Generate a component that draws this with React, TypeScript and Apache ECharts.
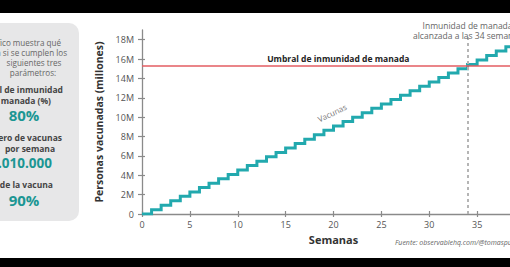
import React, { useEffect, useRef } from 'react';
import * as echarts from 'echarts';

// ---- data ----
const weeks = [0, 1, 2, 3, 4, 5, 6, 7, 8, 9, 10, 11, 12, 13, 14, 15, 16, 17, 18, 19, 20, 21, 22, 23, 24, 25, 26, 27, 28, 29, 30, 31, 32, 33, 34, 35, 36, 37, 38, 39, 40];
const vaccinatedM = [0, 0.45, 0.91, 1.36, 1.82, 2.27, 2.73, 3.18, 3.64, 4.09, 4.55, 5.0, 5.45, 5.91, 6.36, 6.82, 7.27, 7.73, 8.18, 8.64, 9.09, 9.55, 10.0, 10.45, 10.91, 11.36, 11.82, 12.27, 12.73, 13.18, 13.64, 14.09, 14.55, 15.0, 15.45, 15.91, 16.36, 16.82, 17.27, 17.73, 18.18];
const yTickValues = [0, 2, 4, 6, 8, 10, 12, 14, 16, 18];
const xTickValues = [0, 5, 10, 15, 20, 25, 30, 35];
const thresholdM = 15.3;
const immunityWeek = 34;
const thresholdLabel = 'Umbral de inmunidad de manada';
const immunityLabel = 'Inmunidad de manada\nalcanzada a las 34 semanas';
const seriesLabel = 'Vacunas';
const yAxisName = 'Personas vacunadas (millones)';
const xAxisName = 'Semanas';
const sourceText = 'Fuente: observablehq.com/@tomaspueyo';

const TEAL = '#22a9ae';
const TEAL_TEXT = '#1b9693';
const RED = '#e35d62';
const AXIS = '#8a8a8a';
const FONT = '"Open Sans", "Noto Sans", sans-serif';

export default function App() {
  const ref = useRef<HTMLDivElement>(null);
  useEffect(() => {
    if (!ref.current) return;
    const chart = echarts.init(ref.current, undefined, { renderer: 'svg' });

    const txt = (text: string, x: number, y: number, size: number, weight: string, fill: string, align: string) => ({
      type: 'text',
      x,
      y,
      z: 20,
      silent: true,
      style: { text, fill, fontSize: size, fontWeight: weight, fontFamily: FONT, align, verticalAlign: 'middle' },
    });

    const option: any = {
      animation: false,
      backgroundColor: '#ffffff',
      textStyle: { fontFamily: FONT },
      grid: { left: 142, top: 30, right: 15, bottom: 53, containLabel: false },
      xAxis: [
        {
          type: 'value', min: 0, max: 40, interval: 5,
          name: xAxisName, nameLocation: 'middle', nameGap: 17,
          nameTextStyle: { fontSize: 11, fontWeight: 'bold', color: '#333', fontFamily: FONT },
          axisLine: { show: true, lineStyle: { color: AXIS, width: 1.3 } },
          axisTick: { show: true, length: 3, lineStyle: { color: AXIS, width: 1.2 }, customValues: xTickValues },
          axisLabel: { color: '#555', fontSize: 9, margin: 6, fontFamily: FONT, customValues: xTickValues },
          splitLine: { show: false },
        },
        {
          type: 'value', min: 0, max: 40, position: 'bottom',
          axisLine: { show: false },
          axisTick: { show: true, inside: true, length: 3, lineStyle: { color: AXIS, width: 1.2 }, customValues: xTickValues },
          axisLabel: { show: false },
          splitLine: { show: false },
        },
      ],
      yAxis: [
        {
          type: 'value', min: 0, max: 19,
          name: yAxisName, nameLocation: 'middle', nameGap: 20,
          nameTextStyle: { fontSize: 10.5, fontWeight: 'bold', color: '#333', fontFamily: FONT },
          axisLine: { show: true, lineStyle: { color: AXIS, width: 1.3 } },
          axisTick: { show: true, length: 4, lineStyle: { color: AXIS, width: 1.2 }, customValues: yTickValues },
          axisLabel: {
            color: '#555', fontSize: 9, margin: 8, fontFamily: FONT, customValues: yTickValues,
            formatter: (v: number) => (v === 0 ? '0' : v + 'M'),
          },
          splitLine: { show: false },
        },
        {
          type: 'value', min: 0, max: 19, position: 'left',
          axisLine: { show: false },
          axisTick: { show: true, inside: true, length: 3, lineStyle: { color: AXIS, width: 1.2 }, customValues: yTickValues },
          axisLabel: { show: false },
          splitLine: { show: false },
        },
      ],
      series: [
        {
          type: 'line',
          step: 'end',
          xAxisIndex: 0,
          yAxisIndex: 0,
          symbol: 'none',
          showSymbol: false,
          data: weeks.map((w, i) => [w, vaccinatedM[i]]),
          lineStyle: { color: TEAL, width: 3, join: 'miter', cap: 'butt' },
          z: 3,
          markLine: {
            silent: true,
            symbol: 'none',
            animation: false,
            label: { show: false },
            data: [
              { yAxis: thresholdM, lineStyle: { color: RED, width: 1.6, type: 'solid' } },
              [
                {
                  coord: [immunityWeek, 0],
                  lineStyle: { color: '#b5b5b5', width: 2, type: [3, 3] },
                },
                { coord: [immunityWeek, 18.25] },
              ],
            ],
          },
          markPoint: {
            silent: true,
            symbol: 'circle',
            symbolSize: 0,
            animation: false,
            data: [
              {
                coord: [immunityWeek, 18.25],
                label: {
                  show: true, formatter: immunityLabel, position: 'top', distance: -3,
                  fontSize: 8.5, lineHeight: 10, color: '#666', fontFamily: FONT, align: 'center',
                },
              },
              {
                coord: [20.5, thresholdM],
                label: {
                  show: true, formatter: thresholdLabel, position: 'top', distance: 3,
                  fontSize: 8.5, fontWeight: 'bold', color: '#222', fontFamily: FONT,
                },
              },
              {
                coord: [19.8, 8.85],
                label: {
                  show: true, formatter: seriesLabel, position: 'inside', offset: [7, -14], rotate: 25,
                  fontSize: 8, color: '#777', fontFamily: FONT,
                },
              },
            ],
          },
        },
      ],
      graphic: [
        { type: 'rect', silent: true, shape: { x: 0, y: 0, width: 540, height: 13 }, style: { fill: '#000' }, z: 10 },
        { type: 'rect', silent: true, shape: { x: 0, y: 258, width: 540, height: 9 }, style: { fill: '#000' }, z: 10 },
        { type: 'rect', silent: true, shape: { x: -20, y: 23, width: 99, height: 198, r: 10 }, style: { fill: '#e7e7e8' }, z: 1 },
        txt('Este gráfico muestra qué', 61, 42, 8.1, 'normal', '#666', 'right'),
        txt('pasaría si se cumplen los', 67, 52, 8.1, 'normal', '#666', 'right'),
        txt('siguientes tres', 34, 62, 8.1, 'normal', '#666', 'center'),
        txt('parámetros:', 33, 72, 8.1, 'normal', '#666', 'center'),
        txt('Umbral de inmunidad', 63, 89, 8.5, 'bold', '#444', 'right'),
        txt('de manada (%)', 51, 100, 8.5, 'bold', '#444', 'right'),
        txt('80%', 24, 115, 15, 'bold', TEAL_TEXT, 'center'),
        txt('Número de vacunas', 62, 137, 8.5, 'bold', '#444', 'right'),
        txt('por semana', 30, 148, 8.5, 'bold', '#444', 'center'),
        txt('1.010.000', 52, 163, 13.5, 'bold', TEAL_TEXT, 'right'),
        txt('Eficacia de la vacuna', 53, 184, 8.5, 'bold', '#444', 'right'),
        txt('90%', 24, 200, 15, 'bold', TEAL_TEXT, 'center'),
        {
          type: 'text', x: 395, y: 242, z: 20, silent: true,
          style: { text: sourceText, fill: '#666', fontSize: 7, fontStyle: 'italic', fontFamily: FONT, align: 'left', verticalAlign: 'middle' },
        },
      ],
    };
    chart.setOption(option);
    return () => chart.dispose();
  }, []);

  return (
    <div style={{ position: 'fixed', left: 0, top: 0, width: 510, height: 267, overflow: 'hidden', background: '#fff' }}>
      <div ref={ref} style={{ width: 540, height: 267 }} />
    </div>
  );
}
